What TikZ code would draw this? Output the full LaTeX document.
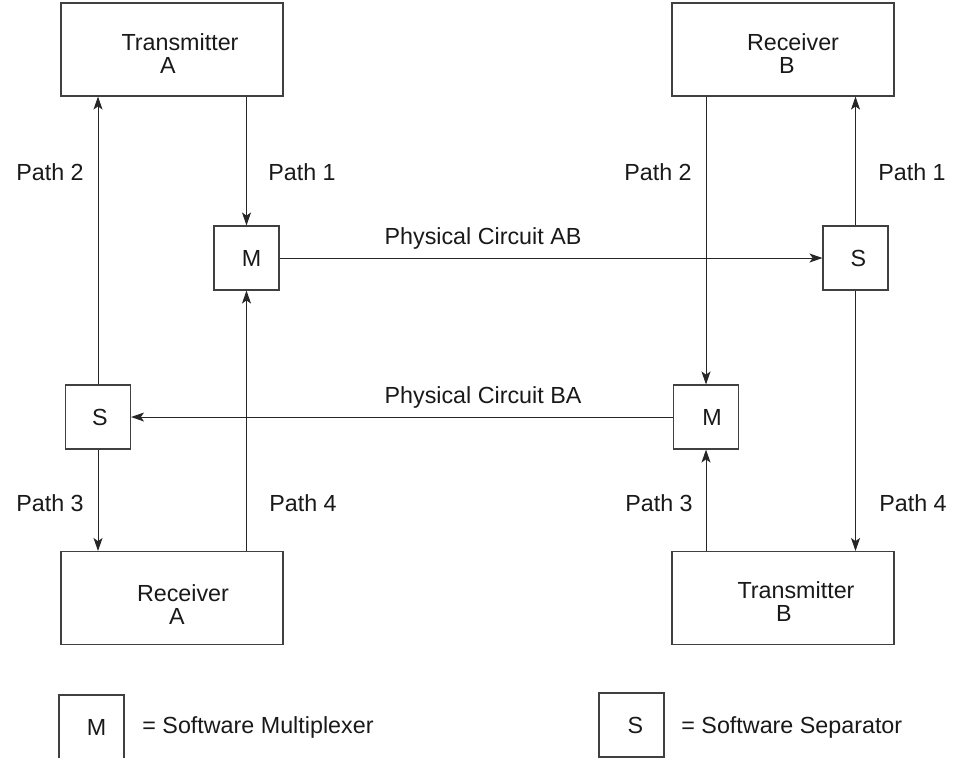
\documentclass[tikz,border=0pt]{standalone}
\usepackage{fontspec}
\setmainfont{Liberation Sans}
\usetikzlibrary{arrows.meta}
\newcommand{\topgap}[1]{\rule{0pt}{#1}}

\begin{document}
\begin{tikzpicture}[x=0.5pt, y=-0.5pt,
  every node/.style = {font=\fontsize{11.65}{11.5}\selectfont, text=black!90},
  unit/.style = {draw=black!75, line width=0.55pt, align=center,
    minimum width=111pt, minimum height=46.5pt, inner sep=0pt},
  muxbox/.style = {draw=black!75, line width=0.55pt,
    minimum width=32.5pt, minimum height=32pt, inner sep=0pt},
  arr/.style = {draw=black!85, line width=0.5pt,
    -{Stealth[length=6.5pt, width=4.5pt, inset=1.6pt]}}]
  \useasboundingbox (0,0) rectangle (956,757);

  % terminal equipment
  \node[unit] (TA) at (172,49.5) {\topgap{12.3pt}\hspace*{8pt}Transmitter\\A\hspace*{4pt}};
  \node[unit] (RB) at (783,49.5) {\topgap{12.3pt}\hspace*{10pt}Receiver\\\hspace*{4pt}B};
  \node[unit] (RA) at (172,598) {\topgap{14.8pt}\hspace*{11pt}Receiver\\\hspace*{5pt}A};
  \node[unit] (TB) at (783,598) {\topgap{12.3pt}\hspace*{13pt}Transmitter\\\hspace*{1pt}B};

  % multiplexers and separators
  \node[muxbox] (M1) at (246.5,258) {\hspace*{5pt}M};
  \node[muxbox] (S1) at (855.5,258) {\hspace*{3pt}S};
  \node[muxbox] (S2) at (98,417) {\hspace*{2pt}S};
  \node[muxbox] (M2) at (706,417) {\hspace*{6pt}M};

  % paths
  \draw[arr] (S2.north) -- (S2 |- TA.south);
  \draw[arr] (TA.south -| M1) -- (M1.north);
  \draw[arr] (S2.south) -- (S2 |- RA.north);
  \draw[arr] (RA.north -| M1) -- (M1.south);
  \draw[arr] (RB.south -| M2) -- (M2.north);
  \draw[arr] (S1.north) -- (S1 |- RB.south);
  \draw[arr] (TB.north -| M2) -- (M2.south);
  \draw[arr] (S1.south) -- (S1 |- TB.north);
  \draw[arr] (M1.east) -- (S1.west);
  \draw[arr] (M2.west) -- (S2.east);

  \node (p2a) at (50,172) {Path 2};
  \node (p1a) at (302,172) {Path 1};
  \node (p2b) at (658,172) {Path 2};
  \node (p1b) at (912,172) {Path 1};
  \node (p3a) at (50,503) {Path 3};
  \node (p4a) at (303,503) {Path 4};
  \node (p3b) at (659,503) {Path 3};
  \node (p4b) at (913,503) {Path 4};
  \node (cab) at (483,238) {Physical Circuit AB};
  \node (cba) at (483,397) {Physical Circuit BA};

  % legend
  \node[muxbox] (legM) at (91.5,727) {\hspace*{5pt}M};
  \node[anchor=west, inner sep=0pt] (txtM) at (142,727) {= Software Multiplexer};
  \node[muxbox] (legS) at (631.5,725) {\hspace*{4pt}S};
  \node[anchor=west, inner sep=0pt] (txtS) at (681,727) {= Software Separator};
\end{tikzpicture}
\end{document}
